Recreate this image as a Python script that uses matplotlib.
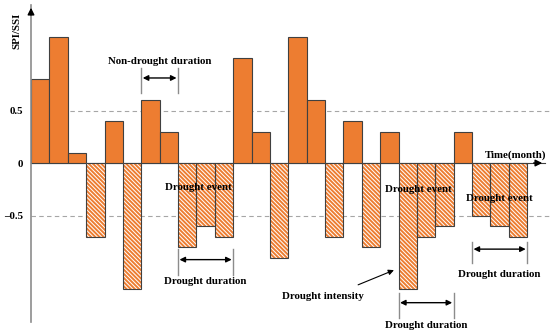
import matplotlib
matplotlib.use("Agg")
import matplotlib.pyplot as plt
import numpy as np

# SPI/SSI value for each month
months = np.arange(27)
spi = [0.8, 1.2, 0.1, -0.7, 0.4, -1.2, 0.6, 0.3, -0.8, -0.6, -0.7, 1.0, 0.3, -0.9,
       1.2, 0.6, -0.7, 0.4, -0.8, 0.3, -1.2, -0.7, -0.6, 0.3, -0.5, -0.6, -0.7]
ytick_vals = [-0.5, 0, 0.5]
ytick_labels = ['\u20130.5', '0', '0.5']

# (start month, end month) of the duration arrows
non_drought = (6, 8)
durations = [(8, 11), (20, 23), (24, 27)]

orange = '#ED7D31'
edge = '#404040'
grey = '#8c8c8c'
font = dict(family='Liberation Serif', weight='bold', fontsize=7.8)

plt.rcParams['hatch.linewidth'] = 1.4

fig = plt.figure(figsize=(5.5, 3.36), dpi=100)
ax = fig.add_axes([31 / 550, 14 / 336, 514 / 550, 317 / 336])

spi = np.array(spi)
pos = spi >= 0
ax.bar(months[pos], spi[pos], width=1, align='edge', color=orange,
       edgecolor=edge, linewidth=0.8, zorder=3)
ax.bar(months[~pos], spi[~pos], width=1, align='edge', color='white',
       edgecolor=orange, hatch='\\' * 8, linewidth=0, zorder=3)
ax.bar(months[~pos], spi[~pos], width=1, align='edge', fill=False,
       edgecolor=edge, linewidth=0.8, zorder=4)

ax.set_xlim(0, 27.97)
ax.set_ylim(-1.514, 1.505)

# dashed reference lines
for v in (0.5, -0.5):
    ax.axhline(v, xmin=0, xmax=1.01, color='#a6a6a6', lw=0.8,
               dashes=(4, 3), clip_on=False, zorder=1)

# axes drawn as arrows
for s in ax.spines.values():
    s.set_visible(False)
ax.axvline(0, color=grey, lw=1.2, zorder=5, clip_on=False)
ax.annotate('', xy=(0, 1), xytext=(0, 0.96), xycoords='axes fraction',
            arrowprops=dict(arrowstyle='-|>', color='black', lw=1,
                            mutation_scale=10), zorder=6)
ax.plot([0, 27.97], [0, 0], color=edge, lw=0.8, zorder=2, clip_on=False)
ax.annotate('', xy=(27.97, 0), xytext=(27.2, 0), xycoords='data',
            arrowprops=dict(arrowstyle='-|>', color='black', lw=1,
                            mutation_scale=10), zorder=6)

ax.set_xticks([])
ax.set_yticks(ytick_vals)
ax.set_yticklabels(ytick_labels, **font)
ax.tick_params(axis='y', length=0, pad=6)

fig.text(17 / 550, 1 - 31 / 336, 'SPI/SSI', rotation=90, ha='center',
         va='center', **font)
ax.text(26.35, 0.03, 'Time(month)', ha='center', va='bottom', **font)


def span(x0, x1, ybot, ytop, yarrow, ytext, text):
    for x in (x0, x1):
        ax.plot([x, x], [ybot, ytop], color=grey, lw=1, zorder=5, clip_on=False)
    ax.annotate('', xy=(x1 - 0.08, yarrow), xytext=(x0 + 0.08, yarrow),
                arrowprops=dict(arrowstyle='<|-|>', color='black', lw=1,
                                mutation_scale=8, shrinkA=0, shrinkB=0),
                zorder=6, annotation_clip=False)
    ax.text((x0 + x1) / 2, ytext, text, ha='center', va='center', zorder=7,
            **font)


span(non_drought[0], non_drought[1], 0.667, 0.905, 0.81, 0.97,
     'Non-drought duration')
span(durations[0][0], durations[0][1], -1.07, -0.82, -0.92, -1.13,
     'Drought duration')
span(durations[1][0], durations[1][1], -1.48, -1.24, -1.33, -1.55,
     'Drought duration')
span(durations[2][0], durations[2][1], -0.95, -0.75, -0.82, -1.06,
     'Drought duration')

ax.text(9.1, -0.23, 'Drought event', ha='center', va='center', zorder=7, **font)
ax.text(21.1, -0.25, 'Drought event', ha='center', va='center', zorder=7, **font)
ax.text(25.5, -0.34, 'Drought event', ha='center', va='center', zorder=7, **font)

ax.text(15.9, -1.27, 'Drought intensity', ha='center', va='center', **font)
ax.annotate('', xy=(19.75, -1.02), xytext=(17.8, -1.16),
            arrowprops=dict(arrowstyle='-|>', color='black', lw=0.8,
                            mutation_scale=8, shrinkA=0, shrinkB=0), zorder=7)

fig.savefig('out.png', dpi=100)
